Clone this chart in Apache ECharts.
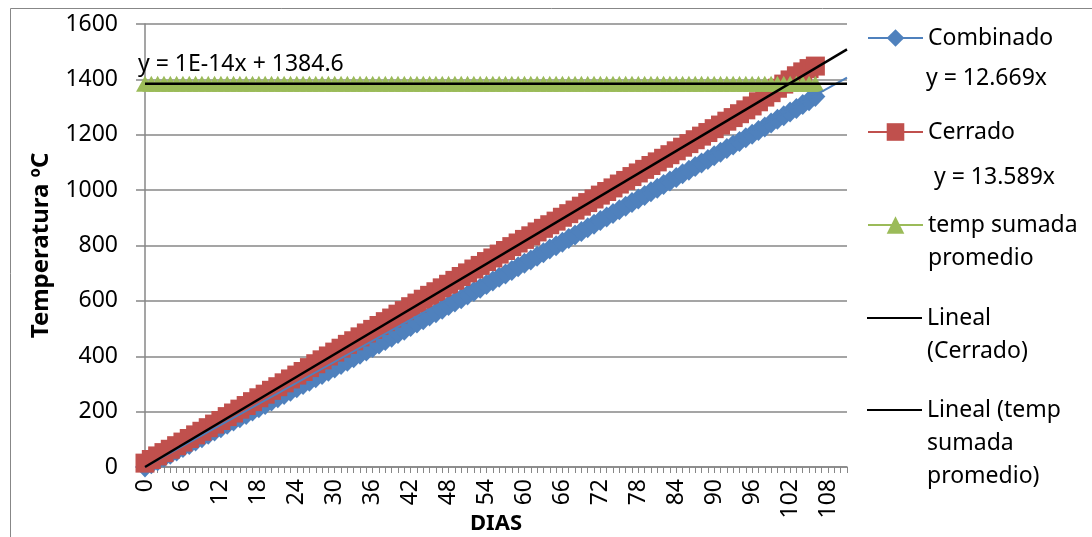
<!DOCTYPE html>
<html>
<head>
<meta charset="utf-8">
<script src="https://cdn.jsdelivr.net/npm/echarts@6/dist/echarts.min.js"></script>
<style>
  html, body { margin: 0; padding: 0; background: #fff; }
  #chart { width: 1092px; height: 537px; }
</style>
</head>
<body>
<div id="chart"></div>
<script>
// Day index of every reading
const days = [
  0, 1, 2, 3, 4, 5, 6, 7, 8, 9,
  10, 11, 12, 13, 14, 15, 16, 17, 18, 19,
  20, 21, 22, 23, 24, 25, 26, 27, 28, 29,
  30, 31, 32, 33, 34, 35, 36, 37, 38, 39,
  40, 41, 42, 43, 44, 45, 46, 47, 48, 49,
  50, 51, 52, 53, 54, 55, 56, 57, 58, 59,
  60, 61, 62, 63, 64, 65, 66, 67, 68, 69,
  70, 71, 72, 73, 74, 75, 76, 77, 78, 79,
  80, 81, 82, 83, 84, 85, 86, 87, 88, 89,
  90, 91, 92, 93, 94, 95, 96, 97, 98, 99,
  100, 101, 102, 103, 104, 105, 106
];

// Accumulated temperature (ºC), combined system
const combinado = [
  0, 12, 23, 35, 46, 58, 70, 81, 94, 106,
  118, 130, 142, 154, 166, 178, 190, 202, 214, 226,
  238, 250, 262, 274, 286, 298, 310, 322, 334, 346,
  358, 370, 382, 395, 407, 419, 432, 444, 457, 469,
  482, 494, 507, 520, 532, 545, 557, 570, 583, 596,
  608, 621, 634, 646, 659, 672, 685, 697, 710, 723,
  736, 748, 761, 774, 787, 799, 812, 825, 838, 851,
  864, 877, 890, 903, 916, 929, 942, 955, 968, 981,
  994, 1007, 1020, 1033, 1046, 1059, 1072, 1085, 1098, 1111,
  1124, 1137, 1150, 1163, 1176, 1189, 1202, 1215, 1228, 1242,
  1256, 1269, 1282, 1295, 1309, 1323, 1338
];

// Accumulated temperature (ºC), closed system
const cerrado = [
  14, 27, 40, 52, 64, 77, 90, 103, 116, 129,
  142, 155, 168, 182, 195, 209, 222, 236, 250, 263,
  277, 290, 304, 318, 332, 345, 359, 373, 387, 401,
  415, 429, 443, 456, 470, 484, 497, 511, 525, 538,
  552, 565, 579, 592, 606, 620, 633, 647, 660, 674,
  688, 701, 715, 728, 742, 755, 769, 782, 796, 809,
  822, 835, 849, 862, 875, 888, 902, 915, 928, 942,
  955, 968, 982, 995, 1008, 1022, 1035, 1049, 1062, 1075,
  1089, 1102, 1115, 1128, 1142, 1155, 1168, 1182, 1195, 1208,
  1222, 1235, 1249, 1262, 1276, 1290, 1304, 1319, 1336, 1352,
  1368, 1383, 1398, 1413, 1427, 1439, 1448
];

// Average summed temperature (constant reference)
const tempSumada = [
  1384.6, 1384.6, 1384.6, 1384.6, 1384.6, 1384.6, 1384.6, 1384.6, 1384.6, 1384.6,
  1384.6, 1384.6, 1384.6, 1384.6, 1384.6, 1384.6, 1384.6, 1384.6, 1384.6, 1384.6,
  1384.6, 1384.6, 1384.6, 1384.6, 1384.6, 1384.6, 1384.6, 1384.6, 1384.6, 1384.6,
  1384.6, 1384.6, 1384.6, 1384.6, 1384.6, 1384.6, 1384.6, 1384.6, 1384.6, 1384.6,
  1384.6, 1384.6, 1384.6, 1384.6, 1384.6, 1384.6, 1384.6, 1384.6, 1384.6, 1384.6,
  1384.6, 1384.6, 1384.6, 1384.6, 1384.6, 1384.6, 1384.6, 1384.6, 1384.6, 1384.6,
  1384.6, 1384.6, 1384.6, 1384.6, 1384.6, 1384.6, 1384.6, 1384.6, 1384.6, 1384.6,
  1384.6, 1384.6, 1384.6, 1384.6, 1384.6, 1384.6, 1384.6, 1384.6, 1384.6, 1384.6,
  1384.6, 1384.6, 1384.6, 1384.6, 1384.6, 1384.6, 1384.6, 1384.6, 1384.6, 1384.6,
  1384.6, 1384.6, 1384.6, 1384.6, 1384.6, 1384.6, 1384.6, 1384.6, 1384.6, 1384.6,
  1384.6, 1384.6, 1384.6, 1384.6, 1384.6, 1384.6, 1384.6
];

// Linear fits (y = slope·x + intercept) and how far they are projected
const fitCombinado = { slope: 12.669, intercept: 0 };
const fitCerrado = { slope: 13.589, intercept: 0 };
const fitTemp = { slope: 1e-14, intercept: 1384.6 };
const fitEnd = 111;

// Legend entries, wrapped as they are shown
const legendLines = {
  'Combinado': ['Combinado'],
  'Cerrado': ['Cerrado'],
  'temp sumada promedio': ['temp sumada', 'promedio'],
  'Lineal (Cerrado)': ['Lineal', '(Cerrado)'],
  'Lineal (temp sumada promedio)': ['Lineal (temp', 'sumada', 'promedio)']
};

const FONT = 'Noto Sans';
const BLUE = '#4F81BD', RED = '#C0504D', GREEN = '#9BBB59', GRID = '#878787';

const pairs = (vals) => days.map((d, i) => [d, vals[i]]);
const fitLine = (f) => [[0, f.intercept], [fitEnd, f.intercept + f.slope * fitEnd]];
const fitText = (f) => {
  if (!f.intercept) return 'y = ' + f.slope + 'x';
  return 'y = ' + f.slope.toExponential(0).toUpperCase() + 'x + ' + f.intercept;
};

// One legend block per entry; blank lines on top keep the icon beside the first text line
const LINE_H = 33;
function legendBlock(name, firstLineCenter, plainIcon) {
  const lines = legendLines[name];
  const n = lines.length;
  const total = 2 * n - 1;
  return {
    data: [plainIcon ? { name: name, icon: 'rect' } : name],
    left: 867,
    top: firstLineCenter - total * LINE_H / 2,
    padding: 0,
    itemWidth: 55,
    itemHeight: plainIcon ? 2 : 22,
    selectedMode: false,
    textStyle: { fontFamily: FONT, fontSize: 23, color: '#000', lineHeight: LINE_H },
    formatter: (nm) => '\n'.repeat(n - 1) + legendLines[nm].join('\n')
  };
}

const chart = echarts.init(document.getElementById('chart'), null, { renderer: 'canvas' });

const option = {
  animation: false,
  backgroundColor: '#fff',
  textStyle: { fontFamily: FONT },
  grid: { left: 145, right: 245, top: 24, bottom: 70, containLabel: false, outerBoundsMode: 'none' },
  xAxis: {
    type: 'value',
    min: 0,
    max: fitEnd,
    interval: 1,
    name: 'DIAS',
    nameLocation: 'middle',
    nameGap: 46,
    nameMoveOverlap: false,
    nameTextStyle: { fontFamily: FONT, fontSize: 22, fontWeight: 'bold', color: '#000' },
    axisLine: { show: true, lineStyle: { color: GRID, width: 1.5 } },
    axisTick: { show: true, length: 6, lineStyle: { color: GRID, width: 1 } },
    axisLabel: {
      rotate: 90,
      margin: 12,
      fontFamily: FONT,
      fontSize: 23,
      color: '#000',
      formatter: (v) => (v % 6 === 0 ? String(v) : '')
    },
    splitLine: { show: false }
  },
  yAxis: {
    type: 'value',
    min: 0,
    max: 1600,
    interval: 200,
    name: 'Temperatura ºC',
    nameLocation: 'middle',
    nameGap: 92,
    nameMoveOverlap: false,
    nameTextStyle: { fontFamily: FONT, fontSize: 24, fontWeight: 'bold', color: '#000' },
    axisLine: { show: true, lineStyle: { color: GRID, width: 1.5 } },
    axisTick: { show: true, length: 9, lineStyle: { color: GRID, width: 1.5 } },
    axisLabel: { margin: 27, fontFamily: FONT, fontSize: 23, color: '#000', formatter: (v) => String(v) },
    splitLine: { show: true, lineStyle: { color: GRID, width: 1.5 } }
  },
  legend: [
    legendBlock('Combinado', 38, false),
    legendBlock('Cerrado', 132, false),
    legendBlock('temp sumada promedio', 225, false),
    legendBlock('Lineal (Cerrado)', 318, true),
    legendBlock('Lineal (temp sumada promedio)', 410, true)
  ],
  series: [
    {
      name: 'Combinado',
      type: 'line',
      data: pairs(combinado),
      symbol: 'diamond',
      symbolSize: [20, 21],
      showAllSymbol: true,
      lineStyle: { color: BLUE, width: 4 },
      itemStyle: { color: BLUE },
      silent: true
    },
    {
      name: 'Cerrado',
      type: 'line',
      data: pairs(cerrado),
      symbol: 'rect',
      symbolSize: 19,
      showAllSymbol: true,
      lineStyle: { color: RED, width: 4 },
      itemStyle: { color: RED },
      silent: true
    },
    {
      name: 'temp sumada promedio',
      type: 'line',
      data: pairs(tempSumada),
      symbol: 'triangle',
      symbolSize: [18, 16],
      showAllSymbol: true,
      lineStyle: { color: GREEN, width: 4 },
      itemStyle: { color: GREEN },
      silent: true
    },
    {
      name: 'Lineal (Combinado)',
      type: 'line',
      data: fitLine(fitCombinado),
      symbol: 'none',
      lineStyle: { color: BLUE, width: 2 },
      itemStyle: { color: BLUE },
      silent: true,
      z: 5
    },
    {
      name: 'Lineal (Cerrado)',
      type: 'line',
      data: fitLine(fitCerrado),
      symbol: 'none',
      lineStyle: { color: '#000', width: 2.5 },
      itemStyle: { color: '#000' },
      silent: true,
      z: 5
    },
    {
      name: 'Lineal (temp sumada promedio)',
      type: 'line',
      data: fitLine(fitTemp),
      symbol: 'none',
      lineStyle: { color: '#000', width: 2.5 },
      itemStyle: { color: '#000' },
      silent: true,
      z: 5
    }
  ],
  graphic: [
    {
      type: 'rect',
      silent: true,
      z: -10,
      shape: { x: 10.5, y: 8.5, width: 1200, height: 700 },
      style: { fill: 'none', stroke: GRID, lineWidth: 1 }
    },
    {
      type: 'text', x: 926, y: 78, z: 100, silent: true,
      style: { text: fitText(fitCombinado), fontFamily: FONT, fontSize: 23, fill: '#000', verticalAlign: 'middle' }
    },
    {
      type: 'text', x: 934, y: 177, z: 100, silent: true,
      style: { text: fitText(fitCerrado), fontFamily: FONT, fontSize: 23, fill: '#000', verticalAlign: 'middle' }
    },
    {
      type: 'text', x: 138, y: 64, z: 100, silent: true,
      style: { text: fitText(fitTemp), fontFamily: FONT, fontSize: 23, fill: '#000', verticalAlign: 'middle' }
    }
  ]
};

chart.setOption(option);
</script>
</body>
</html>
